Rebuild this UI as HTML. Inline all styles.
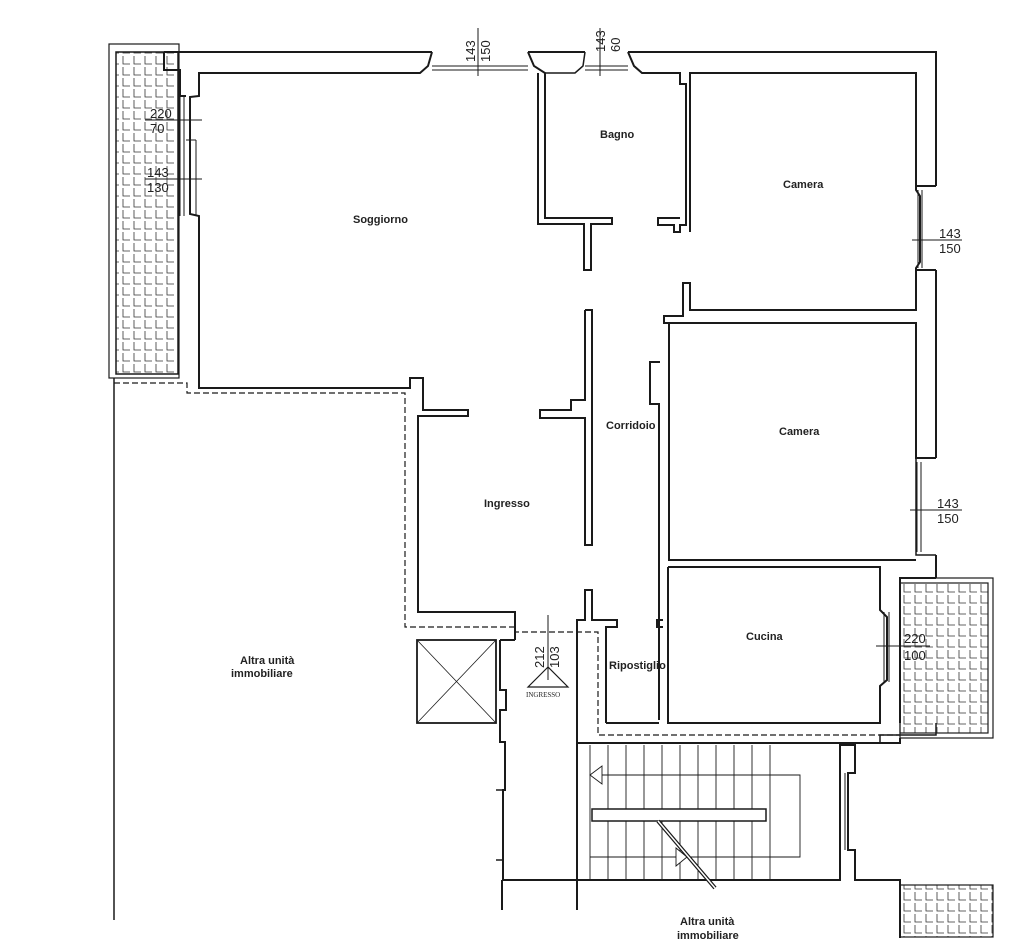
<!DOCTYPE html>
<html><head><meta charset="utf-8"><style>
html,body{margin:0;padding:0;background:#fff;}
svg{display:block}
text{font-family:"Liberation Sans",sans-serif;font-weight:bold;font-size:11px;fill:#222}
.d{font-family:"Liberation Sans",sans-serif;font-weight:normal;font-size:13px;fill:#222}
</style></head><body>
<svg width="1011" height="950" viewBox="0 0 1011 950" xmlns="http://www.w3.org/2000/svg">
<defs>
<pattern id="g" x="0" y="0" width="11" height="11" patternUnits="userSpaceOnUse">
<path d="M2 1 V9 H9" fill="none" stroke="#333" stroke-width="0.8"/>
</pattern>
</defs>
<g fill="none" stroke="#1a1a1a" stroke-width="2">
<rect x="109" y="44" width="70" height="334" stroke-width="1.2"/>
<rect x="116" y="52" width="62" height="322" fill="url(#g)" stroke-width="1.5"/>
<polyline points="164,52 164,70 180,70 180,96 186,96"/>
<polyline points="164,52 432,52"/><polyline points="528,52 585,52"/><polyline points="628,52 936,52 936,186"/>
<polyline points="432,52 428,66 420,73 199,73 199,96 190,97 190,214 199,216 199,388 410,388 410,378 423,378 423,410 468,410 468,416 418,416 418,612 515,612 515,640"/>
<polyline points="528,52 534,66 545,73 545,218 612,218 612,224 591,224 591,270 584,270 584,224 538,224 538,73"/>
<polyline points="585,52 583,66 575,73 545,73" stroke-width="1.5"/>
<polyline points="628,52 634,66 642,73 680,73 680,84 686,84 686,225 680,225 680,232 674,232 674,225 658,225 658,218 680,218"/>
<polyline points="690,232 690,73 916,73 916,186 936,186"/>
<line x1="432" y1="70" x2="528" y2="70" stroke-width="1"/><line x1="432" y1="66" x2="528" y2="66" stroke-width="1"/>
<line x1="585" y1="70" x2="628" y2="70" stroke-width="1"/><line x1="585" y1="66" x2="628" y2="66" stroke-width="1"/>
<line x1="180" y1="96" x2="180" y2="216" stroke-width="1"/><line x1="184" y1="96" x2="184" y2="216" stroke-width="1"/><line x1="186" y1="140" x2="196" y2="140" stroke-width="1"/><line x1="196" y1="140" x2="196" y2="216" stroke-width="1"/>
<line x1="918" y1="190" x2="918" y2="268" stroke-width="1"/><line x1="922" y1="190" x2="922" y2="268" stroke-width="1"/>
<polyline points="936,270 936,458"/>
<polyline points="916,186 916,190 920,196 920,262 916,268 916,310 690,310 690,283 683,283 683,316 664,316 664,323 916,323 916,458 936,458"/>
<line x1="916" y1="270" x2="936" y2="270"/>
<line x1="917" y1="462" x2="917" y2="552" stroke-width="1"/><line x1="921" y1="462" x2="921" y2="552" stroke-width="1"/>
<polyline points="936,555 936,578"/>
<polyline points="916,458 916,555 936,555" stroke-width="1.5"/>
<polyline points="669,323 669,560 916,560"/>
<polyline points="660,362 650,362 650,404 659,404 659,720"/>
<polyline points="668,567 880,567 880,610 887,617 887,680 880,686 880,723 668,723 668,567"/>
<polyline points="585,310 592,310 592,545 585,545 585,418 540,418 540,410 571,410 571,400 585,400 585,310"/>
<polyline points="606,723 606,627 617,627 617,620 592,620 592,590 585,590 585,620 577,620 577,743 900,743 900,738"/>
<polyline points="606,723 659,723"/>
<polyline points="663,620 657,620 657,627 663,627"/>
<polyline points="880,743 880,735 936,735 936,723" stroke-width="1.5"/>
<polyline points="900,723 900,578 936,578"/>
<line x1="884" y1="612" x2="884" y2="682" stroke-width="1"/><line x1="889" y1="612" x2="889" y2="682" stroke-width="1"/>
<rect x="900" y="578" width="93" height="160" stroke-width="1.2"/>
<rect x="900" y="583" width="88" height="150" fill="url(#g)" stroke-width="1.2"/>
<rect x="417" y="640" width="79" height="83" stroke-width="1.8"/>
<line x1="417" y1="640" x2="496" y2="723" stroke-width="0.8"/><line x1="496" y1="640" x2="417" y2="723" stroke-width="0.8"/>
<polyline points="500,640 500,690 506,690 506,710 500,710 500,742 505,742 505,790 503,790 503,880 577,880 577,743"/>
<polyline points="515,640 500,640"/>
<line x1="496" y1="790" x2="503" y2="790" stroke-width="1.5"/><line x1="496" y1="860" x2="503" y2="860" stroke-width="1.5"/>
<line x1="502" y1="880" x2="502" y2="910"/><line x1="577" y1="880" x2="577" y2="910"/>
<polyline points="577,743 577,880 840,880 840,745 855,745 855,773 848,773 848,850 855,850 855,880 900,880 900,938"/>
<polyline points="855,743 900,743" stroke-width="1.5"/>
<line x1="845" y1="773" x2="845" y2="850" stroke-width="1"/>
<g stroke-width="0.9">
<line x1="590" y1="745" x2="590" y2="880"/><line x1="608" y1="745" x2="608" y2="880"/><line x1="626" y1="745" x2="626" y2="880"/><line x1="644" y1="745" x2="644" y2="880"/><line x1="662" y1="745" x2="662" y2="880"/><line x1="680" y1="745" x2="680" y2="880"/><line x1="698" y1="745" x2="698" y2="880"/><line x1="716" y1="745" x2="716" y2="880"/><line x1="734" y1="745" x2="734" y2="880"/><line x1="752" y1="745" x2="752" y2="880"/><line x1="770" y1="745" x2="770" y2="880"/>
<polyline points="598,775 800,775 800,857 590,857"/>
<rect x="592" y="809" width="174" height="12" fill="#fff" stroke-width="1.5"/>
<polygon points="590,775 602,766 602,784" fill="#fff"/>
<polygon points="687,857 676,848 676,866" fill="#fff"/>
</g>
<polyline points="658,821 715,888" stroke-width="4"/><polyline points="658,821 715,888" stroke="#fff" stroke-width="1.5"/>
<rect x="900" y="885" width="93" height="52" fill="url(#g)" stroke-width="1.2"/>
<line x1="114" y1="378" x2="114" y2="920" stroke-width="1.5"/>
<polyline points="114,383 187,383 187,393 405,393 405,627 515,627 515,632 598,632 598,735 900,735" stroke-dasharray="6,3" stroke-width="1.2"/>
<g stroke-width="1">
<line x1="478" y1="28" x2="478" y2="76"/><line x1="600" y1="28" x2="600" y2="76"/>
<line x1="145" y1="120" x2="202" y2="120"/><line x1="145" y1="179" x2="202" y2="179"/>
<line x1="912" y1="240" x2="962" y2="240"/><line x1="910" y1="510" x2="962" y2="510"/>
<line x1="876" y1="646" x2="930" y2="646"/><line x1="548" y1="615" x2="548" y2="680"/>
</g>
<polygon points="548,667 528,687 568,687" stroke-width="1.2"/>
</g>
<text class="d" x="150" y="118">220</text><text class="d" x="150" y="133">70</text>
<text class="d" x="147" y="177">143</text><text class="d" x="147" y="192">130</text>
<text class="d" x="939" y="238">143</text><text class="d" x="939" y="253">150</text>
<text class="d" x="937" y="508">143</text><text class="d" x="937" y="523">150</text>
<text class="d" x="904" y="643">220</text><text class="d" x="904" y="660">100</text>
<text class="d" transform="translate(475,62) rotate(-90)">143</text>
<text class="d" transform="translate(490,62) rotate(-90)">150</text>
<text class="d" transform="translate(605,52) rotate(-90)">143</text>
<text class="d" transform="translate(620,52) rotate(-90)">60</text>
<text class="d" transform="translate(544,668) rotate(-90)">212</text>
<text class="d" transform="translate(559,668) rotate(-90)">103</text>
<text x="353" y="223">Soggiorno</text>
<text x="600" y="138">Bagno</text>
<text x="783" y="188">Camera</text>
<text x="779" y="435">Camera</text>
<text x="606" y="429">Corridoio</text>
<text x="484" y="507">Ingresso</text>
<text x="746" y="640">Cucina</text>
<text x="609" y="669">Ripostiglio</text>
<text x="240" y="664">Altra unità</text>
<text x="231" y="677">immobiliare</text>
<text x="680" y="925">Altra unità</text>
<text x="677" y="939">immobiliare</text>
<text x="526" y="697" style="font-family:'Liberation Serif',serif;font-weight:normal;font-size:7px">INGRESSO</text>
</svg>
</body></html>
